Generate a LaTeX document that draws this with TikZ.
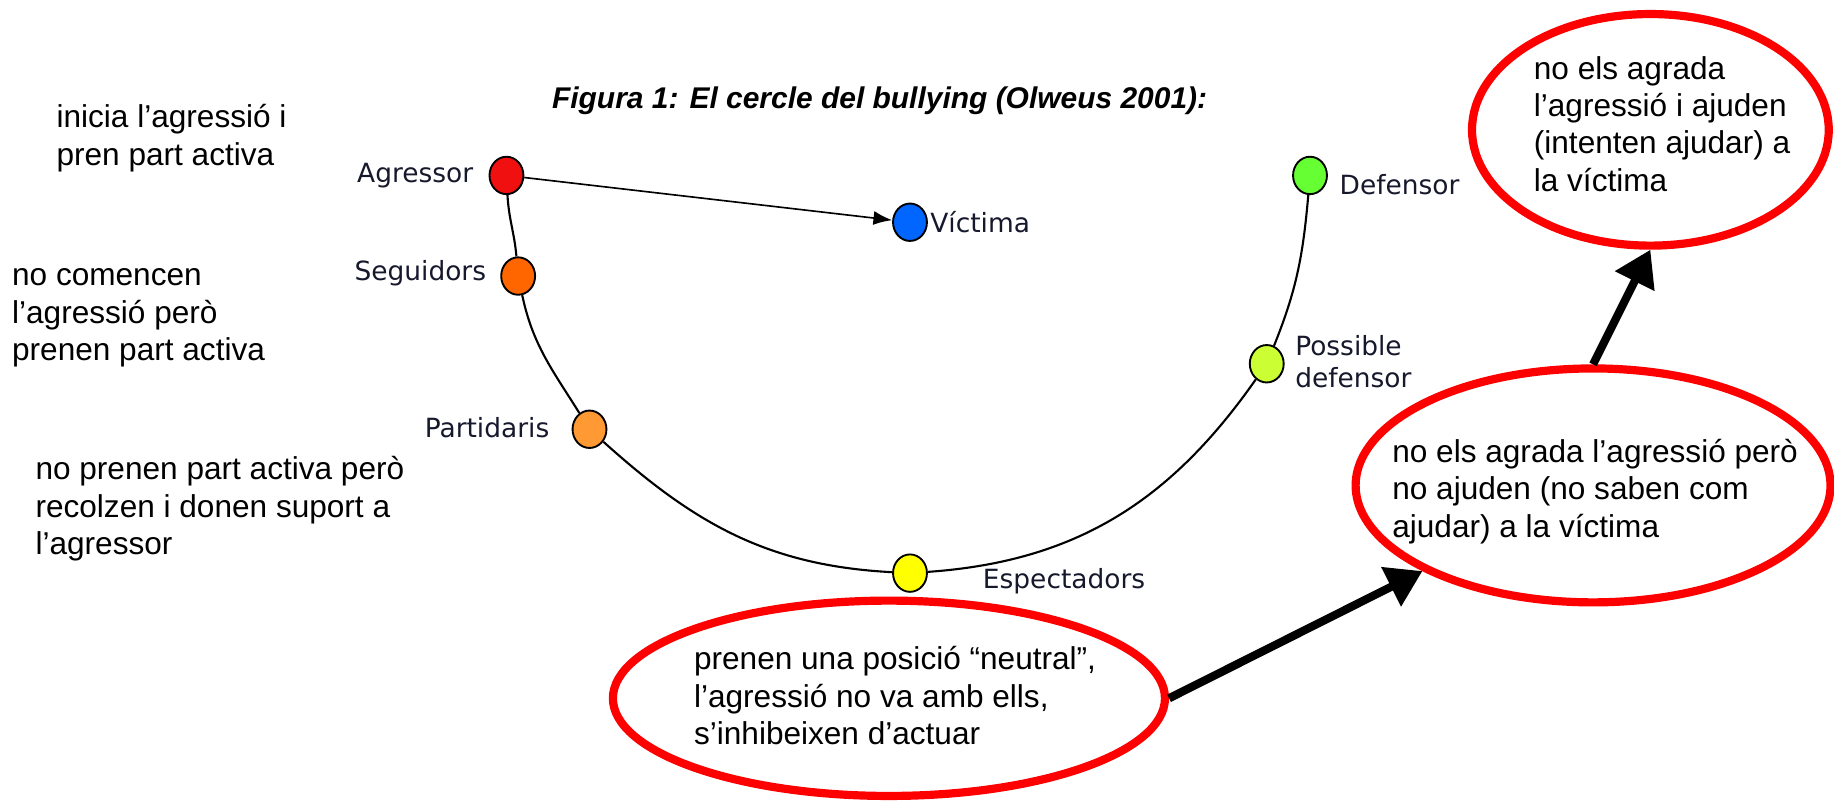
\documentclass[tikz,border=0pt]{standalone}
\usepackage{fontspec}
\setmainfont{Liberation Sans}
\newfontfamily\vfont{DejaVu Sans}
\usetikzlibrary{arrows.meta,shapes.geometric}
\definecolor{labcol}{RGB}{22,24,44}
\definecolor{cAgr}{RGB}{240,16,16}
\definecolor{cSeg}{RGB}{255,102,0}
\definecolor{cPar}{RGB}{255,153,51}
\definecolor{cEsp}{RGB}{255,255,0}
\definecolor{cPos}{RGB}{204,255,51}
\definecolor{cDef}{RGB}{102,255,51}
\definecolor{cVic}{RGB}{0,102,255}
\begin{document}
\begin{tikzpicture}[x=0.5pt,y=0.5pt,
  dot/.style={ellipse,draw=black,line width=0.8pt,inner sep=0pt,minimum width=14.5pt,minimum height=16pt},
  lab/.style={font=\vfont\fontsize{11.3}{13.5}\selectfont,text=labcol,inner sep=0pt,align=left},
  note/.style={font=\fontsize{13.5}{16}\selectfont,inner sep=0pt,align=left},
  bub/.style={ellipse,draw=red,line width=3.5pt,fill=white,inner sep=0pt},
  big/.style={line width=3.5pt,-{Triangle[length=15pt,width=18pt]}},
  curve/.style={line width=0.9pt,black}]
\useasboundingbox (0,0) rectangle (1568,-684.8);

% title
\node[font=\bfseries\itshape\fontsize{12.8}{15}\selectfont,inner sep=0pt] (title) at (752,-86) {Figura 1: El cercle del bullying (Olweus 2001):};

% dots
\node[dot,fill=cAgr] (agr) at (433,-150) {};
\node[dot,fill=cSeg] (seg) at (443,-236) {};
\node[dot,fill=cPar] (par) at (504,-367) {};
\node[dot,fill=cEsp] (esp) at (778,-490) {};
\node[dot,fill=cPos] (pos) at (1083,-311) {};
\node[dot,fill=cDef] (def) at (1120,-150) {};
\node[dot,fill=cVic] (vic) at (778,-190) {};

% labels
\node[lab,anchor=east] (lagr) at (405,-150) {Agressor};
\node[lab,anchor=east] (lseg) at (416,-234) {Seguidors};
\node[lab,anchor=east] (lpar) at (470,-366) {Partidaris};
\node[lab,anchor=west] (lesp) at (840,-497) {Espectadors};
\node[lab,anchor=west] (lpos) at (1107,-309) {Possible\\defensor};
\node[lab,anchor=west] (ldef) at (1145,-158) {Defensor};
\node[lab,anchor=west] (lvic) at (795,-190) {Víctima};

% circle curve
\draw[curve] (agr) to[out=-87,in=95] (seg)
  to[out=-78,in=122] (par)
  to[out=-42,in=177] (esp)
  to[out=4,in=-125] (pos)
  to[out=68,in=-95] (def);
\draw[line width=0.7pt,-{Latex[length=8pt,width=6pt]}] (agr) -- (vic);

% left notes
\node[note,anchor=west] (n1) at (48,-118) {inicia l’agressió i\\pren part activa};
\node[note,anchor=west] (n2) at (10,-272) {no comencen\\l’agressió però\\prenen part activa};
\node[note,anchor=west] (n3) at (30,-435) {no prenen part activa però\\recolzen i donen suport a\\l’agressor};

% bubbles
\node[bub,minimum width=236pt,minimum height=83.5pt] (b1) at (760,-597) {};
\node[bub,minimum width=203pt,minimum height=100pt] (b2) at (1362,-415) {};
\node[bub,minimum width=152.5pt,minimum height=99pt] (b3) at (1411,-111) {};

\node[note,anchor=west] (t1) at (593,-595) {prenen una posició “neutral”,\\l’agressió no va amb ells,\\s’inhibeixen d’actuar};
\node[note,anchor=west] (t2) at (1190,-420) {no els agrada l’agressió però\\no ajuden (no saben com\\ajudar) a la víctima};
\node[note,anchor=west] (t3) at (1311,-106) {no els agrada\\l’agressió i ajuden\\(intenten ajudar) a\\la víctima};

% arrows
\draw[big] (b1.east) -- (b2);
\draw[big] (b2.north) -- (b3.south);
\end{tikzpicture}
\end{document}
